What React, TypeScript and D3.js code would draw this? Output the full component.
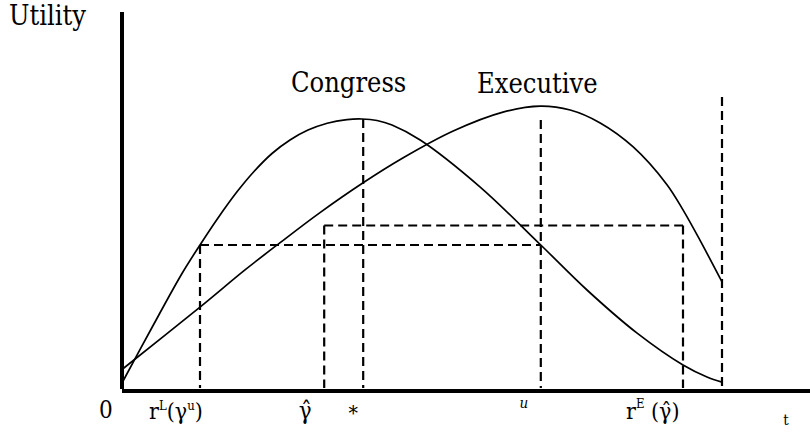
import React from "react";
import * as d3 from "d3";

// curve samples (t on the horizontal axis, utility on the vertical)
const congressT = [0, 0.5, 1.0, 1.3, 1.6, 1.92, 2.2, 2.5, 2.8, 3.1, 3.42, 3.75, 4.0, 4.25, 4.5, 4.97, 5.97, 6.98, 7.75, 8.58, 9.35, 9.75, 10];
const congressU = [0.2, 2.05, 3.85, 4.8, 5.7, 6.58, 7.25, 7.85, 8.3, 8.63, 8.86, 8.98, 9.0, 8.95, 8.8, 8.3, 6.73, 4.8, 3.3, 1.87, 0.8, 0.4, 0.23];

const executiveT = [0, 1.3, 2.05, 2.63, 3.3, 4.0, 4.68, 5.52, 6.35, 6.97, 7.47, 7.97, 8.52, 9.08, 9.35, 9.63, 10];
const executiveU = [0.65, 2.73, 3.97, 4.87, 5.88, 6.85, 7.7, 8.6, 9.23, 9.43, 9.3, 8.87, 8.07, 6.82, 5.97, 4.97, 3.57];

// dashed guides: vertical drops and horizontal levels
const dropT = [1.3, 3.37, 4.02, 6.98, 9.35, 10];
const dropTop = [4.8, 5.45, 9.0, 8.97, 5.45, 9.73];
const levelFrom = [1.3, 3.37];
const levelTo = [6.98, 9.35];
const levelU = [4.8, 5.45];

const W = 810;
const H = 432;
const FONT = "'DejaVu Serif Condensed', 'DejaVu Serif', serif";

export default function App() {
  const x = d3.scaleLinear().domain([0, 10]).range([122, 722]);
  const y = d3.scaleLinear().domain([0, 10]).range([389, 89]);

  const line = d3
    .line<[number, number]>()
    .x((d) => x(d[0]))
    .y((d) => y(d[1]))
    .curve(d3.curveCatmullRom.alpha(0.5));

  const congress = congressT.map((t, i) => [t, congressU[i]] as [number, number]);
  const executive = executiveT.map((t, i) => [t, executiveU[i]] as [number, number]);

  const dash = "9,5";
  const base = y(0) - 1;

  return (
    <svg
      width={W}
      height={H}
      style={{ position: "absolute", left: 0, top: 0, background: "#fff" }}
      fontFamily={FONT}
    >
      {/* axes */}
      <line x1={x(0)} x2={x(0)} y1={12} y2={y(0)} stroke="#000" strokeWidth={4} />
      <line x1={x(0)} x2={W} y1={y(0) + 2} y2={y(0) + 2} stroke="#000" strokeWidth={4} />

      {/* guides */}
      <g stroke="#000" strokeWidth={2.2} strokeDasharray={dash} fill="none">
        {dropT.map((t, i) => (
          <line key={"v" + i} x1={x(t)} x2={x(t)} y1={y(dropTop[i])} y2={base} />
        ))}
        {levelU.map((u, i) => (
          <line key={"h" + i} x1={x(levelFrom[i])} x2={x(levelTo[i])} y1={y(u)} y2={y(u)} />
        ))}
      </g>

      {/* utility curves */}
      <path d={line(congress) || ""} fill="none" stroke="#000" strokeWidth={1.7} />
      <path d={line(executive) || ""} fill="none" stroke="#000" strokeWidth={1.7} />

      {/* titles */}
      <text x={9} y={25} fontSize={27}>Utility</text>
      <text x={291} y={92} fontSize={27}>Congress</text>
      <text x={477} y={93} fontSize={27}>Executive</text>

      {/* bottom labels */}
      <text x={99} y={418} fontSize={24}>0</text>
      <text x={149} y={419} fontSize={23}>
        r<tspan fontSize={13} dy={-9}>L</tspan>
        <tspan dy={9}>(γ</tspan>
        <tspan fontSize={13} dy={-9}>u</tspan>
        <tspan dy={9}>)</tspan>
      </text>
      <text x={x(dropT[1]) - 19} y={419} fontSize={24} textAnchor="middle">γ̂</text>
      <text x={x(dropT[2]) - 10} y={420} fontSize={21} textAnchor="middle">*</text>
      <text x={x(dropT[3]) - 17} y={408} fontSize={15} fontStyle="italic" textAnchor="middle">u</text>
      <text x={626} y={419} fontSize={23}>
        r<tspan fontSize={13} dy={-11}>E</tspan>
        <tspan dy={11}> (γ̂)</tspan>
      </text>
      <text x={786} y={425} fontSize={15} textAnchor="middle">t</text>
    </svg>
  );
}
